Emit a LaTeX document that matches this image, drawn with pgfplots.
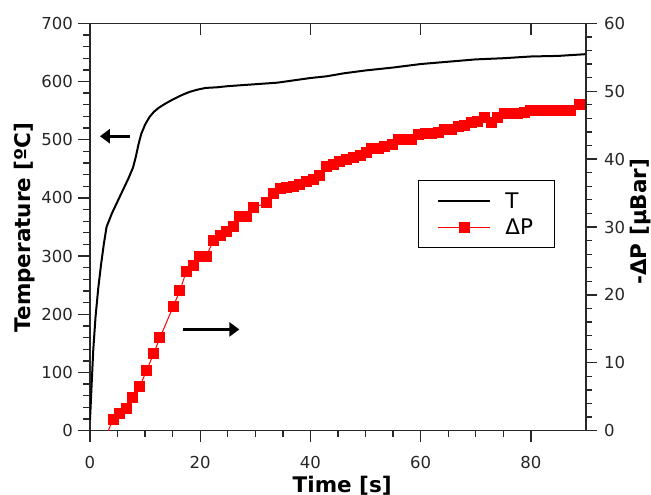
\documentclass[border=0pt]{standalone}
\usepackage{pgfplots}
\pgfplotsset{compat=1.18}
\usepackage{fontspec}
\setmainfont{DejaVu Sans}
\usetikzlibrary{arrows.meta}

\definecolor{axisgray}{RGB}{40,40,40}

\pgfplotstableread{
t    T
0    18
0.3  80
0.6  140
1.0  195
1.5  245
2.0  285
2.5  320
3.0  350
3.5  362
4.0  374
5.0  394
6.0  414
7.0  434
7.8  452
8.3  470
8.8  492
9.3  510
10.0 526
10.8 539
11.6 548
12.5 555
13.5 561
15.0 569
16.5 576
18.0 582
19.5 586
21.0 589
23   590
25   592
28   594
31   596
34   598
37   602
40   606
43   609
46   614
50   619
55   624
60   630
65   634
70   638
75   640
80   643
85   644
90   647
}\Tdata

\pgfplotstableread{
t    P
2.8  -1.0
4.2  1.7
5.4  2.5
6.6  3.3
7.8  4.9
9.0  6.5
10.3 8.9
11.5 11.3
12.7 13.7
15.1 18.3
16.3 20.6
17.5 23.5
18.7 24.3
19.9 25.7
21.1 25.7
22.4 28.0
23.6 28.8
24.8 29.4
26.0 30.0
27.2 31.5
28.4 31.5
29.6 32.8
32.1 33.6
33.3 35.0
34.5 35.6
35.7 35.8
36.9 36.0
38.1 36.2
39.3 36.7
40.5 37.0
41.7 37.6
42.9 38.9
44.1 39.2
45.3 39.6
46.5 39.9
47.8 40.3
49.0 40.6
50.2 40.9
51.1 41.5
52.3 41.6
53.5 41.9
54.8 42.2
56.0 42.9
57.2 42.9
58.4 42.9
59.6 43.6
60.8 43.7
62.0 43.8
63.2 43.9
64.4 44.3
65.6 44.4
66.8 44.8
68.0 44.9
69.2 45.4
70.4 45.6
71.6 46.2
72.8 45.4
74.0 46.2
75.2 46.7
76.4 46.7
77.6 46.7
78.8 46.8
80.0 47.2
81.2 47.2
82.4 47.2
83.6 47.2
84.8 47.2
86.0 47.2
87.2 47.2
88.9 48.0
}\Pdata

\pgfplotsset{
  base/.style={
    scale only axis, width=496pt, height=407.4pt,
    xmin=0, xmax=90,
    axis line style={axisgray, line width=1.3pt},
    every tick/.style={axisgray, line width=1.3pt},
    major tick length=11.5pt, minor tick length=6.5pt,
    /pgf/number format/assume math mode=true,
    tick label style={font=\fontsize{16.5}{20}\selectfont, text=black!85},
    label style={font=\bfseries\fontsize{21.5}{26}\selectfont},
  },
}

\begin{document}
\begin{tikzpicture}
% top axis: inward major ticks only
\begin{axis}[base,
  axis y line=none, axis x line*=top,
  xtick={0,20,40,60,80}, xticklabels={},
  tick align=inside, ymin=0, ymax=1]
\end{axis}

% temperature axis
\begin{axis}[base,
  ymin=0, ymax=700,
  xtick={0,20,40,60,80}, ytick={0,100,...,700},
  minor x tick num=3, minor y tick num=4,
  xtick pos=bottom, ytick pos=left,
  tick align=outside,
  xticklabel style={yshift=-11pt},
  yticklabel style={xshift=-2pt},
  xlabel={Time [s]}, ylabel={Temperature [ºC]},
  xlabel style={at={(axis description cs:0.5085,-0.1514)}, anchor=base},
  ylabel style={at={(axis description cs:-0.131,0.499)}, anchor=center},
]
\addplot[black, line width=2pt] table[x=t, y=T] {\Tdata};
\draw[black, line width=2.6pt, -{Triangle[length=10pt,width=14pt]}]
  (axis cs:7.3,506) -- (axis cs:1.8,506);
\draw[black, line width=2.6pt, -{Triangle[length=10pt,width=14pt]}]
  (axis cs:16.9,174) -- (axis cs:27.1,174);
\end{axis}

% pressure axis
\begin{axis}[base,
  ymin=0, ymax=60,
  axis x line=none, axis y line*=right,
  ytick={0,10,...,60}, minor y tick num=4,
  tick align=outside,
  clip marker paths=true,
  yticklabel style={xshift=3pt},
  ylabel={-ΔP [µBar]},
  ylabel style={at={(axis description cs:1.111,0.513)}, anchor=center},
  legend style={at={(0.661,0.615)}, anchor=north west,
    draw=black, line width=0.9pt, fill=white,
    font=\fontsize{21.5}{26}\selectfont,
    inner xsep=19pt, inner ysep=10pt, row sep=5pt},
  legend cell align=left,
  legend image code/.code={
    \draw[mark repeat=2, mark phase=2, #1]
      plot coordinates {(0pt,0pt) (26pt,0pt) (52pt,0pt)};
    \path (64pt,0pt);},
]
\addlegendimage{black, line width=2pt}
\addlegendentry{T}
\addplot[red, line width=1pt, mark=square*, mark size=5pt,
  mark options={fill=red, draw=red, line width=0pt}] table[x=t, y=P] {\Pdata};
\addlegendentry{ΔP}
\end{axis}

\pgfresetboundingbox
\useasboundingbox (-90pt,-64.3pt) rectangle (561pt,430.7pt);
\end{tikzpicture}
\end{document}
